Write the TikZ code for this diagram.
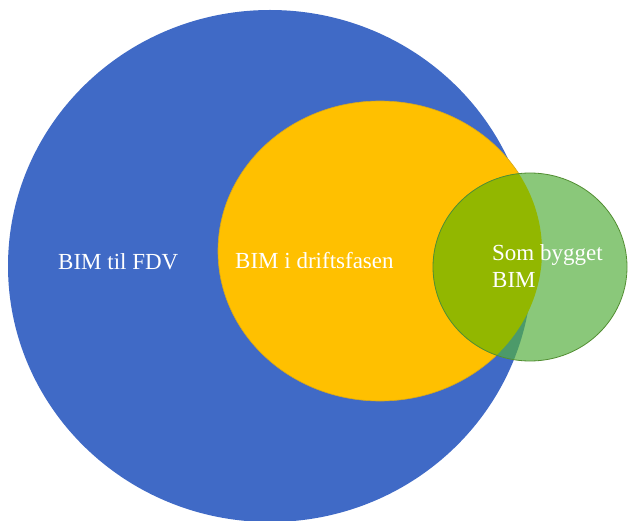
\documentclass[tikz,border=0pt]{standalone}
\usepackage{fontspec}
\setmainfont{Liberation Serif}

\definecolor{fdvblue}{RGB}{64,106,198}
\definecolor{driftyellow}{RGB}{255,192,0}
\definecolor{yellowedge}{RGB}{214,168,30}
\definecolor{somgreen}{RGB}{138,200,122}
\definecolor{olivemix}{RGB}{146,183,0}
\definecolor{tealmix}{RGB}{76,154,106}
\definecolor{greenedge}{RGB}{82,142,50}

% the three sets
\newcommand{\fdvset}{(270,266) ellipse [x radius=262, y radius=256]}
\newcommand{\driftset}{(380,251) ellipse [x radius=162, y radius=150]}
\newcommand{\somset}{(530,267) ellipse [x radius=97, y radius=94]}

\begin{document}
\begin{tikzpicture}[x=1pt,y=-1pt,
  setlabel/.style={text=white,font=\fontsize{23}{27}\selectfont,
    inner sep=0pt,anchor=base west,align=left}]
\useasboundingbox (0,0) rectangle (628,521);
\fill[white] (0,0) rectangle (628,521);

% BIM til FDV
\fill[fdvblue] \fdvset;
% BIM i driftsfasen
\fill[driftyellow] \driftset;
\draw[yellowedge,line width=0.6pt] \driftset;

% Som bygget BIM, shaded where it lies over the other sets
\begin{scope}
  \clip \somset;
  \fill[somgreen] \somset;
  \fill[tealmix] \fdvset;
  \fill[olivemix] \driftset;
\end{scope}
\draw[greenedge,line width=0.8pt] \somset;

\node[setlabel] (fdv) at (58,269) {BIM til FDV};
\node[setlabel] (drift) at (235,268) {BIM i driftsfasen};
% base anchor of a two-line node sits on its last line
\node[setlabel] (som) at (492,287) {Som bygget\\BIM};
\end{tikzpicture}
\end{document}
